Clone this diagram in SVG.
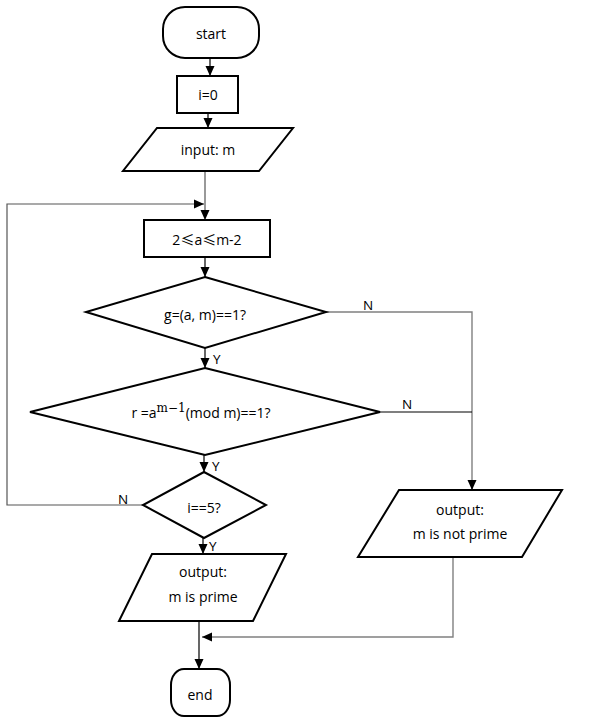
<svg xmlns="http://www.w3.org/2000/svg" width="590" height="718" viewBox="0 0 590 718">
<defs>
<marker id="ah" markerUnits="userSpaceOnUse" markerWidth="10" markerHeight="10" viewBox="0 0 10 10" refX="10" refY="5" orient="auto">
<path d="M0,0.5 L10,5 L0,9.5 Z" fill="#000"/>
</marker>
</defs>
<style>
.s{fill:#fff;stroke:#000;stroke-width:2}
.t{font-family:"Open Sans","Noto Sans","DejaVu Sans",sans-serif;font-size:14px;fill:#000;text-anchor:middle}
.l{font-family:"Open Sans","Noto Sans","DejaVu Sans",sans-serif;font-size:13.5px;fill:#000}
.c{fill:none;stroke:#000;stroke-width:1.2}
.g{fill:none;stroke:#808080;stroke-width:1.4}
.d{fill:none;stroke:#555;stroke-width:1.2}
.cjk{font-family:"Noto Sans CJK SC","DejaVu Sans",sans-serif}
</style>
<g id="connectors">
<line class="c" x1="210" y1="58" x2="210" y2="76" marker-end="url(#ah)"/>
<line class="c" x1="208" y1="113" x2="208" y2="128" marker-end="url(#ah)"/>
<line class="d" x1="205" y1="171" x2="205" y2="220" marker-end="url(#ah)"/>
<polyline class="d" points="143,505 7,505 7,204 204,204" marker-end="url(#ah)"/>
<line class="c" x1="205" y1="257" x2="205" y2="277" marker-end="url(#ah)"/>
<line class="c" x1="205" y1="348" x2="205" y2="368" marker-end="url(#ah)"/>
<line class="c" x1="204" y1="455" x2="204" y2="472" marker-end="url(#ah)"/>
<line class="c" x1="203" y1="538" x2="203" y2="554" marker-end="url(#ah)"/>
<line class="c" x1="199" y1="621" x2="199" y2="669" marker-end="url(#ah)"/>
<polyline class="g" points="326,312 472,312 472,488"/>
<line class="c" x1="380" y1="412" x2="472" y2="412"/>
<line class="c" x1="472" y1="480" x2="472" y2="490" marker-end="url(#ah)"/>
<polyline class="g" points="453,557 453,637 202,637" marker-end="url(#ah)"/>
<text class="l" x="213" y="364">Y</text>
<text class="l" x="212" y="471">Y</text>
<text class="l" x="209" y="551">Y</text>
<text class="l" x="363" y="310">N</text>
<text class="l" x="402" y="409">N</text>
<text class="l" x="118" y="504">N</text>
</g>
<g id="start">
<rect class="s" x="163" y="7" width="96" height="51" rx="22" ry="22"/>
<text class="t" x="211" y="39">start</text>
</g>
<g id="init">
<rect class="s" x="177" y="76" width="61" height="37"/>
<text class="t" x="208" y="100">i=0</text>
</g>
<g id="input">
<polygon class="s" points="157,128 293,128 259,171 123,171"/>
<text class="t" x="208" y="155">input: m</text>
</g>
<g id="choose">
<rect class="s" x="144" y="220" width="126" height="37"/>
<text class="t" x="207" y="245">2<tspan class="cjk">≤</tspan>a<tspan class="cjk">≤</tspan>m-2</text>
</g>
<g id="gcd">
<polygon class="s" points="205,277 326,312 205,348 86,312"/>
<text class="t" x="205" y="320">g=(a, m)==1?</text>
</g>
<g id="fermat">
<polygon class="s" points="205,368 380,412 205,455 30,412"/>
<text class="t" x="201" y="418">r =a<tspan font-family="'DejaVu Serif','Liberation Serif',serif" font-size="12" dy="-6">m−1</tspan><tspan dy="6">(mod m)==1?</tspan></text>
</g>
<g id="count">
<polygon class="s" points="204,472 266,505 204,538 143,505"/>
<text class="t" x="204" y="513">i==5?</text>
</g>
<g id="prime">
<polygon class="s" points="152,554 286,554 253,621 119,621"/>
<text class="t" x="203" y="577">output:</text>
<text class="t" x="203" y="602">m is prime</text>
</g>
<g id="notprime">
<polygon class="s" points="399,490 562,490 522,557 358,557"/>
<text class="t" x="460" y="515">output:</text>
<text class="t" x="460" y="539">m is not prime</text>
</g>
<g id="end">
<rect class="s" x="171" y="669" width="59" height="47" rx="13" ry="16"/>
<text class="t" x="200" y="700">end</text>
</g>
</svg>
